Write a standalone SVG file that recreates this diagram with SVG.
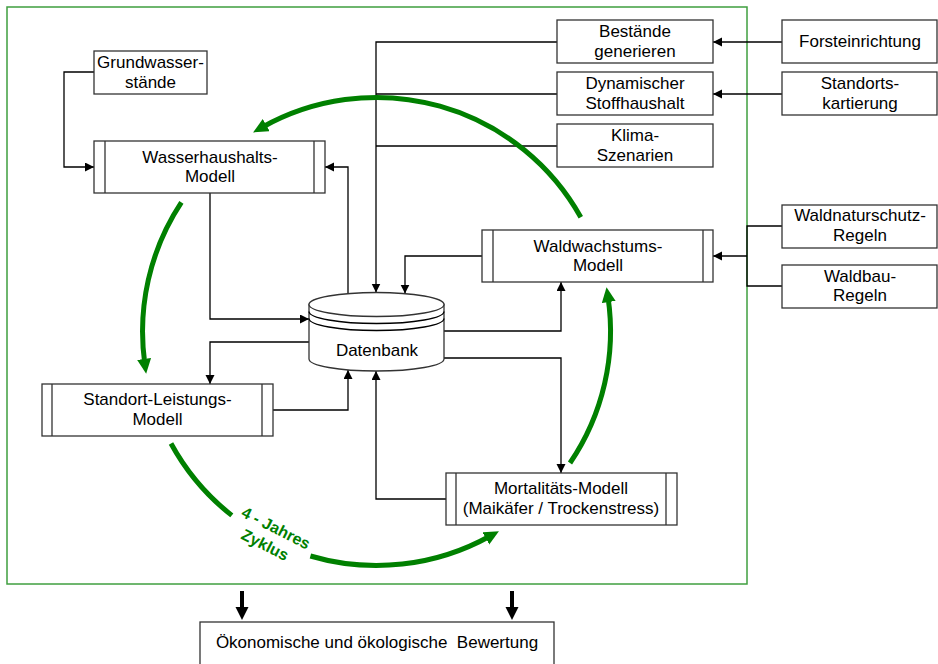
<svg xmlns="http://www.w3.org/2000/svg" width="938" height="664" viewBox="0 0 938 664">
<style>
.box{fill:#fff;stroke:#333;stroke-width:1.3}
.bar{stroke:#333;stroke-width:1.3}
.t{font-family:"Liberation Sans",Arial,sans-serif;font-size:17px;fill:#000;text-anchor:middle}
.con{fill:none;stroke:#000;stroke-width:1.3;marker-end:url(#ah)}
.con2{fill:none;stroke:#000;stroke-width:1.3}
.cyc{fill:none;stroke:#008000;stroke-width:5;marker-end:url(#gh)}
.cyc2{fill:none;stroke:#008000;stroke-width:5}
.gt{font-family:"Liberation Sans",Arial,sans-serif;font-size:16px;font-weight:bold;fill:#008000;text-anchor:middle}
</style>
<defs>
<marker id="ah" markerUnits="userSpaceOnUse" markerWidth="10" markerHeight="10" refX="9" refY="4.5" orient="auto">
<path d="M0,0 L9,4.5 L0,9 z" fill="#000"/>
</marker>
<marker id="gh" markerUnits="userSpaceOnUse" markerWidth="16" markerHeight="15" refX="5" refY="7" orient="auto">
<path d="M0,0 L15,7 L0,14 z" fill="#008000"/>
</marker>
</defs>
<rect width="938" height="664" fill="#fff"/>
<rect id="frame" x="7" y="7" width="740" height="577" fill="none" stroke="#3f9f3f" stroke-width="1.5"/>

<g id="connectors">
<path class="con" d="M94,72 H64 V167 H94"/>
<path class="con" d="M210,193 V319 H309"/>
<path class="con" d="M348,293.6 V167 H325"/>
<path class="con" d="M557,42 H376 V292.5"/>
<path class="con2" d="M557,94 H376"/>
<path class="con2" d="M557,146 H376"/>
<path class="con" d="M482,256 H405 V293.6"/>
<path class="con" d="M444,331 H561 V282"/>
<path class="con" d="M444,358 H561 V473"/>
<path class="con" d="M446,499 H376 V371"/>
<path class="con" d="M273,410 H348 V370"/>
<path class="con" d="M309,342 H210 V384"/>
<path class="con" d="M782,42 H713"/>
<path class="con" d="M782,94 H713"/>
<path class="con2" d="M782,226 H747 V286 H782"/>
<path class="con" d="M747,256 H713"/>
<g id="out-arrows" fill="#000">
<path d="M242,591 V609" stroke="#000" stroke-width="4"/>
<path d="M235.5,607 L248.5,607 L242,620 z"/>
<path d="M512,591 V609" stroke="#000" stroke-width="4"/>
<path d="M505.5,607 L518.5,607 L512,620 z"/>
</g>
</g>

<g id="cycle">
<path class="cyc" d="M580.8,217.3 A234,234 0 0 0 261.8,127.5"/>
<path class="cyc" d="M181.4,202.4 A234,234 0 0 0 144.8,363.9"/>
<path class="cyc2" d="M171,443.5 A234,234 0 0 0 231.8,515.4"/>
<path class="cyc" d="M310.4,556 A234,234 0 0 0 490.2,536"/>
<path class="cyc" d="M570,463 A234,234 0 0 0 608,297.1"/>
<g id="cycle-label" transform="translate(276,528) rotate(27)">
<text class="gt" x="0" y="5.5">4 - Jahres</text>
<text class="gt" x="-2" y="25.5">Zyklus</text>
</g>
</g>

<g id="grundwasser">
<rect class="box" x="94" y="51" width="113" height="43"/>
<text class="t" x="150.5" y="67.5">Grundwasser-</text>
<text class="t" x="150.5" y="87.5">stände</text>
</g>

<g id="bestaende">
<rect class="box" x="557" y="20" width="156" height="43"/>
<text class="t" x="635" y="36.5">Bestände</text>
<text class="t" x="635" y="56.5">generieren</text>
</g>
<g id="stoffhaushalt">
<rect class="box" x="557" y="72" width="156" height="43"/>
<text class="t" x="635" y="88.5">Dynamischer</text>
<text class="t" x="635" y="108.5">Stoffhaushalt</text>
</g>
<g id="klima">
<rect class="box" x="557" y="124" width="156" height="43"/>
<text class="t" x="635" y="140.5">Klima-</text>
<text class="t" x="635" y="160.5">Szenarien</text>
</g>

<g id="forsteinrichtung">
<rect class="box" x="782" y="20" width="155" height="43"/>
<text class="t" x="860" y="47">Forsteinrichtung</text>
</g>
<g id="standortskartierung">
<rect class="box" x="782" y="72" width="155" height="43"/>
<text class="t" x="860" y="88.5">Standorts-</text>
<text class="t" x="860" y="108.5">kartierung</text>
</g>
<g id="waldnaturschutz">
<rect class="box" x="782" y="205" width="155" height="43"/>
<text class="t" x="860" y="221">Waldnaturschutz-</text>
<text class="t" x="860" y="240.5">Regeln</text>
</g>
<g id="waldbau">
<rect class="box" x="782" y="265" width="155" height="43"/>
<text class="t" x="860" y="281.5">Waldbau-</text>
<text class="t" x="860" y="301">Regeln</text>
</g>

<g id="wasserhaushalt">
<rect class="box" x="94" y="141" width="231" height="52"/>
<path class="bar" d="M105,141 V193 M314,141 V193"/>
<text class="t" x="210" y="162.5">Wasserhaushalts-</text>
<text class="t" x="210" y="182">Modell</text>
</g>

<g id="waldwachstum">
<rect class="box" x="482" y="230" width="231" height="52"/>
<path class="bar" d="M493,230 V282 M703,230 V282"/>
<text class="t" x="598" y="251.5">Waldwachstums-</text>
<text class="t" x="598" y="271">Modell</text>
</g>

<g id="standortleistung">
<rect class="box" x="42" y="384" width="231" height="52"/>
<path class="bar" d="M52,384 V436 M262,384 V436"/>
<text class="t" x="157.5" y="405">Standort-Leistungs-</text>
<text class="t" x="157.5" y="425">Modell</text>
</g>

<g id="mortalitaet">
<rect class="box" x="446" y="473" width="231" height="52"/>
<path class="bar" d="M456,473 V525 M666,473 V525"/>
<text class="t" x="561" y="493.5">Mortalitäts-Modell</text>
<text class="t" x="561" y="514">(Maikäfer / Trockenstress)</text>
</g>

<g id="datenbank">
<path class="box" d="M309,304.5 V359 A67.5,12 0 0 0 444,359 V304.5 z"/>
<ellipse class="box" cx="376.5" cy="304.5" rx="67.5" ry="12"/>
<path class="con2" d="M309,311.5 A67.5,12 0 0 0 444,311.5 M309,318.5 A67.5,12 0 0 0 444,318.5"/>
<text class="t" x="377" y="356">Datenbank</text>
</g>

<g id="bewertung">
<rect class="box" x="200" y="622" width="354" height="50"/>
<text class="t" x="377" y="648" xml:space="preserve">Ökonomische und ökologische  Bewertung</text>
</g>
</svg>
